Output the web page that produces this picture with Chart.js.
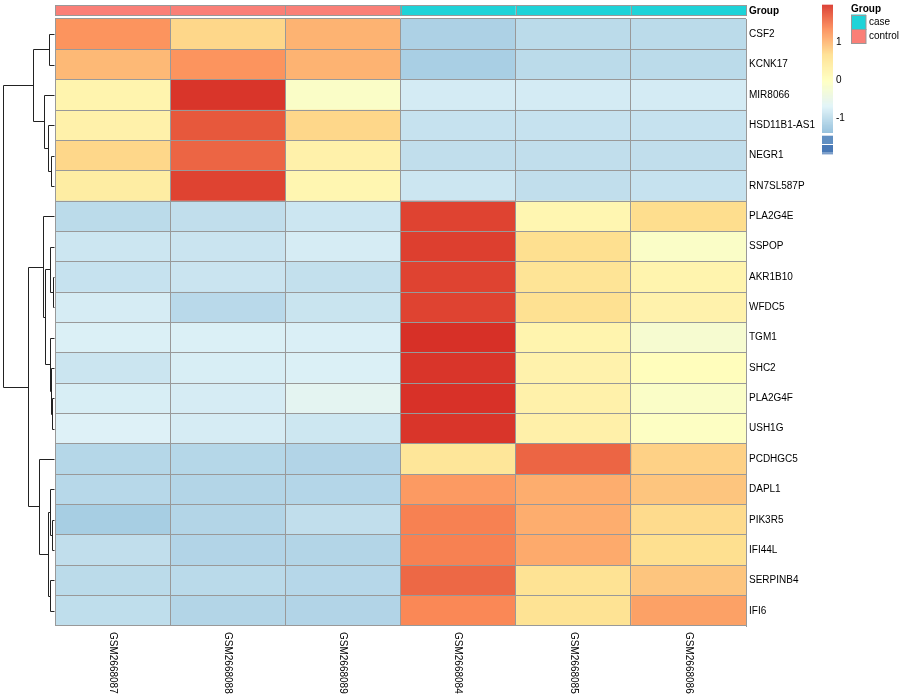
<!DOCTYPE html>
<html>
<head>
<meta charset="utf-8">
<script src="https://cdn.jsdelivr.net/npm/chart.js@4.4.0/dist/chart.umd.min.js"></script>
<style>
  html, body { margin: 0; padding: 0; background: #fff; }
  #wrap { width: 900px; height: 700px; }
</style>
</head>
<body>
<div id="wrap"><canvas id="chart" width="900" height="700"></canvas></div>
<script>
// genes, top to bottom (clustered order)
const genes = [
    'CSF2', 'KCNK17', 'MIR8066', 'HSD11B1-AS1', 'NEGR1', 'RN7SL587P',
    'PLA2G4E', 'SSPOP', 'AKR1B10', 'WFDC5', 'TGM1', 'SHC2', 'PLA2G4F', 'USH1G',
    'PCDHGC5', 'DAPL1', 'PIK3R5', 'IFI44L', 'SERPINB4', 'IFI6'
];
const samples = ['GSM2668087', 'GSM2668088', 'GSM2668089', 'GSM2668084', 'GSM2668085', 'GSM2668086'];
const groups = ['control', 'control', 'control', 'case', 'case', 'case'];
const groupNames = ['case', 'control'];
const groupColors = ['#1ED3D8', '#FA7F77'];

// row-scaled (z-score) values, one array per sample, same order as genes
const gsm087 = [1.30, 1.00, 0.25, 0.30, 0.75, 0.40, -1.00, -0.85, -0.90, -0.77, -0.72, -0.86, -0.75, -0.70, -1.05, -1.03, -1.17, -0.95, -1.00, -0.96];
const gsm088 = [0.75, 1.30, 2.00, 1.75, 1.65, 1.90, -0.95, -0.87, -0.87, -1.02, -0.72, -0.75, -0.77, -0.77, -1.05, -1.07, -1.07, -1.08, -1.01, -1.07];
const gsm089 = [1.05, 1.05, -0.10, 0.75, 0.30, 0.20, -0.85, -0.77, -0.93, -0.88, -0.73, -0.72, -0.60, -0.84, -1.08, -1.06, -0.95, -1.07, -1.04, -1.08];
const gsm084 = [-1.12, -1.15, -0.78, -0.90, -0.95, -0.85, 1.90, 1.93, 1.90, 1.90, 2.04, 2.00, 2.03, 2.00, 0.55, 1.25, 1.45, 1.45, 1.63, 1.40];
const gsm085 = [-1.00, -1.00, -0.78, -0.90, -0.95, -0.95, 0.20, 0.68, 0.60, 0.65, 0.25, 0.28, 0.30, 0.32, 1.65, 1.10, 1.10, 1.12, 0.62, 0.62];
const gsm086 = [-1.00, -1.00, -0.78, -0.90, -0.95, -0.90, 0.70, -0.10, 0.25, 0.28, -0.20, 0.05, -0.10, -0.05, 0.80, 0.90, 0.72, 0.68, 0.90, 1.20];
const sampleValues = [gsm087, gsm088, gsm089, gsm084, gsm085, gsm086];

// row dendrogram, hclust style: negative = leaf (1-based), positive = earlier merge
const treeMerge = [
    [-9, -10], [-13, -14], [-17, -18], [-5, -6], [-12, 2], [-8, 1], [-11, 5],
    [-16, 3], [-19, -20], [-1, -2], [-4, 4], [8, 9], [6, 7], [-3, 11],
    [-7, 13], [-15, 12], [10, 14], [15, 16], [17, 18]
];
const treeHeight = [0.15, 0.3, 0.3, 0.6, 0.6, 0.8, 0.8, 0.8, 0.8, 1.0, 1.2, 1.2, 1.8, 2.0, 2.2, 2.9, 4.1, 5.1, 10];

const legendTicks = [1, 0, -1];

const FONT = '"Liberation Sans", Arial, Helvetica, sans-serif';
const GRID = '#999999';
const palette = ['#4575B4', '#91BFDB', '#E0F3F8', '#FFFFBF', '#FEE090', '#FC8D59', '#D73027'];
const maxAbs = Math.max(...sampleValues.flat().map(Math.abs));

function hexToRgb(h) {
    return [parseInt(h.slice(1, 3), 16), parseInt(h.slice(3, 5), 16), parseInt(h.slice(5, 7), 16)];
}

function colorFor(v) {
    let t = (v + maxAbs) / (2 * maxAbs);
    t = Math.max(0, Math.min(1, t));
    const pos = t * (palette.length - 1);
    const i = Math.min(Math.floor(pos), palette.length - 2);
    const f = pos - i;
    const a = hexToRgb(palette[i]), b = hexToRgb(palette[i + 1]);
    const c = a.map((x, k) => Math.round(x + (b[k] - x) * f));
    return `rgb(${c[0]},${c[1]},${c[2]})`;
}

const heatmapExtras = {
    id: 'heatmapExtras',
    afterDraw(chart) {
        const ctx = chart.ctx;
        const xs = chart.scales.x;
        const ys = chart.scales.y;
        const area = chart.chartArea;
        ctx.save();

        // column annotation bar
        for (let j = 0; j < samples.length; j++) {
            const x0 = xs.getPixelForValue(j), x1 = xs.getPixelForValue(j + 1);
            ctx.fillStyle = groupColors[groupNames.indexOf(groups[j])];
            ctx.fillRect(x0, 5, x1 - x0, 10.5);
            ctx.strokeStyle = GRID;
            ctx.lineWidth = 1;
            ctx.strokeRect(Math.round(x0) + 0.5, 5.5, Math.round(x1 - x0), 10);
        }
        ctx.fillStyle = '#000';
        ctx.font = 'bold 10px ' + FONT;
        ctx.textAlign = 'left';
        ctx.textBaseline = 'middle';
        ctx.fillText('Group', area.right + 3, 11);

        // column labels
        ctx.font = '10px ' + FONT;
        for (let j = 0; j < samples.length; j++) {
            const x = xs.getPixelForValue(j + 0.5);
            ctx.save();
            ctx.translate(x, area.bottom + 6);
            ctx.rotate(Math.PI / 2);
            ctx.textAlign = 'left';
            ctx.textBaseline = 'middle';
            ctx.fillText(samples[j], 0, 0);
            ctx.restore();
        }

        // row dendrogram
        const leafX = area.left - 1;
        const rootH = treeHeight[treeHeight.length - 1];
        const hx = h => leafX - h / rootH * (leafX - 3);
        const nodes = [];
        const node = id => id < 0
            ? { y: ys.getPixelForValue(-id - 1), h: 0 }
            : nodes[id - 1];
        ctx.strokeStyle = '#222';
        ctx.lineWidth = 1;
        ctx.beginPath();
        treeMerge.forEach((pair, k) => {
            const a = node(pair[0]), b = node(pair[1]);
            const h = treeHeight[k];
            const X = Math.round(hx(h)) + 0.5;
            ctx.moveTo(Math.round(hx(a.h)) + 0.5, Math.round(a.y) + 0.5);
            ctx.lineTo(X, Math.round(a.y) + 0.5);
            ctx.lineTo(X, Math.round(b.y) + 0.5);
            ctx.lineTo(Math.round(hx(b.h)) + 0.5, Math.round(b.y) + 0.5);
            nodes.push({ y: (a.y + b.y) / 2, h });
        });
        ctx.stroke();

        // colour key (38 px per unit, 0 at y = 80.7)
        const kx = 822, kw = 11, kTop = 4.7, kBot = 133;
        const vy = v => 80.7 - v * 38;
        for (let y = kTop; y < kBot; y += 1) {
            const v = (80.7 - (y + 0.5)) / 38;
            ctx.fillStyle = colorFor(v);
            ctx.fillRect(kx, y, kw, Math.min(1.2, kBot - y));
        }
        // lower end of the key is drawn as separate blocks in the original
        ctx.fillStyle = colorFor(-1.8);
        ctx.fillRect(kx, 135.7, kw, 8.3);
        ctx.fillStyle = colorFor(-2.0);
        ctx.fillRect(kx, 145, kw, 7.7);
        ctx.fillStyle = colorFor(-2.04);
        ctx.fillRect(kx, 153.3, kw, 1);

        ctx.fillStyle = '#000';
        ctx.font = '10px ' + FONT;
        ctx.textAlign = 'left';
        ctx.textBaseline = 'middle';
        legendTicks.forEach(v => ctx.fillText(String(v), kx + 14, vy(v)));

        // group legend
        ctx.font = 'bold 10px ' + FONT;
        ctx.fillText('Group', 851, 9);
        ctx.font = '10px ' + FONT;
        groupNames.forEach((g, i) => {
            const y = 14.5 + i * 14.5;
            ctx.fillStyle = groupColors[i];
            ctx.fillRect(851, y, 15, 14.5);
            ctx.strokeStyle = GRID;
            ctx.strokeRect(851.5, Math.round(y) + 0.5, 14.5, 14);
            ctx.fillStyle = '#000';
            ctx.fillText(g, 869, y + 7.5);
        });

        ctx.restore();
    }
};

const datasets = sampleValues.map((vals, j) => ({
    label: samples[j],
    data: genes.map(() => 1),
    backgroundColor: vals.map(colorFor),
    borderWidth: 0,
    barPercentage: 1,
    categoryPercentage: 1
}));

new Chart(document.getElementById('chart').getContext('2d'), {
    type: 'bar',
    data: { labels: genes, datasets },
    options: {
        indexAxis: 'y',
        responsive: false,
        animation: false,
        layout: { padding: { left: 55, top: 19, bottom: 74, right: 0 } },
        plugins: {
            legend: { display: false },
            tooltip: { enabled: false }
        },
        scales: {
            x: {
                type: 'linear',
                stacked: true,
                min: 0,
                max: 6,
                z: 1,
                grid: { color: GRID, drawTicks: false, z: 1 },
                border: { display: false },
                ticks: { display: false, stepSize: 1 },
                afterFit: s => { s.height = 0; }
            },
            y: {
                type: 'category',
                stacked: true,
                position: 'right',
                offset: true,
                z: 1,
                grid: { offset: true, color: GRID, drawTicks: false, z: 1 },
                border: { display: true, color: GRID, z: 1 },
                ticks: { color: '#000', font: { family: FONT, size: 10 }, padding: 3, autoSkip: false },
                afterFit: s => { s.width = 154; }
            }
        }
    },
    plugins: [heatmapExtras]
});
</script>
</body>
</html>
